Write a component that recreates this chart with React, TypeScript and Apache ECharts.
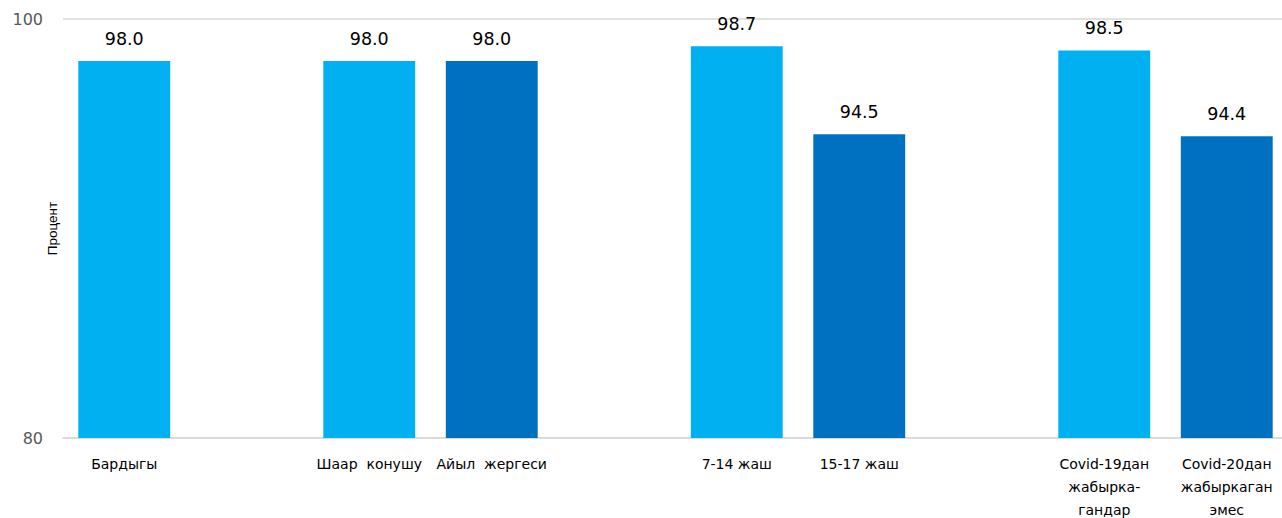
import React, { useEffect, useRef } from "react";
import * as echarts from "echarts";

const categories = [
  "Бардыгы",
  "",
  "Шаар  конушу",
  "Айыл  жергеси",
  "",
  "7-14 жаш",
  "15-17 жаш",
  "",
  "Covid-19дан\nжабырка-\nгандар",
  "Covid-20дан\nжабыркаган\nэмес",
];
const lightValues: (number | string)[] = [98.0, "-", 98.0, "-", "-", 98.7, "-", "-", 98.5, "-"];
const darkValues: (number | string)[] = ["-", "-", "-", 98.0, "-", "-", 94.5, "-", "-", 94.4];
const yMin = 80;
const yMax = 100;
const yName = "Процент";

export default function App() {
  const ref = useRef<HTMLDivElement>(null);
  useEffect(() => {
    if (!ref.current) return;
    const chart = echarts.init(ref.current, undefined, { renderer: "svg" });
    const labelCfg = {
      show: true,
      position: "top" as const,
      distance: 13,
      fontSize: 17.5,
      color: "#000000",
      fontFamily: "DejaVu Sans",
      formatter: (p: any) => Number(p.value).toFixed(1),
    };
    chart.setOption({
      animation: false,
      grid: {
        left: 63,
        right: -6,
        top: 19,
        bottom: 80,
        containLabel: false,
        outerBoundsMode: "none",
      },
      xAxis: {
        type: "category",
        data: categories,
        axisTick: { show: false },
        axisLine: { lineStyle: { color: "#D9D9D9", width: 1.5 } },
        axisLabel: {
          interval: 0,
          margin: 14,
          fontSize: 14,
          lineHeight: 23,
          color: "#000000",
          fontFamily: "DejaVu Sans",
        },
      },
      yAxis: {
        type: "value",
        min: yMin,
        max: yMax,
        interval: 20,
        name: yName,
        nameLocation: "middle",
        nameGap: 4,
        nameMoveOverlap: false,
        nameTextStyle: { fontSize: 13.5, color: "#000000", fontFamily: "Liberation Sans" },
        axisLine: { show: false },
        axisTick: { show: false },
        axisLabel: { margin: 20, fontSize: 16, color: "#595959", fontFamily: "DejaVu Sans" },
        splitLine: { lineStyle: { color: "#D9D9D9", width: 1.5 } },
      },
      series: [
        {
          type: "bar",
          stack: "s",
          data: lightValues,
          barCategoryGap: "25%",
          itemStyle: { color: "#00B0F0" },
          label: labelCfg,
        },
        {
          type: "bar",
          stack: "s",
          data: darkValues,
          barCategoryGap: "25%",
          itemStyle: { color: "#0070C0" },
          label: labelCfg,
        },
      ],
    });
    return () => chart.dispose();
  }, []);
  return (
    <div
      ref={ref}
      style={{ position: "fixed", left: 0, top: 0, width: 1282, height: 518, background: "#fff" }}
    />
  );
}
